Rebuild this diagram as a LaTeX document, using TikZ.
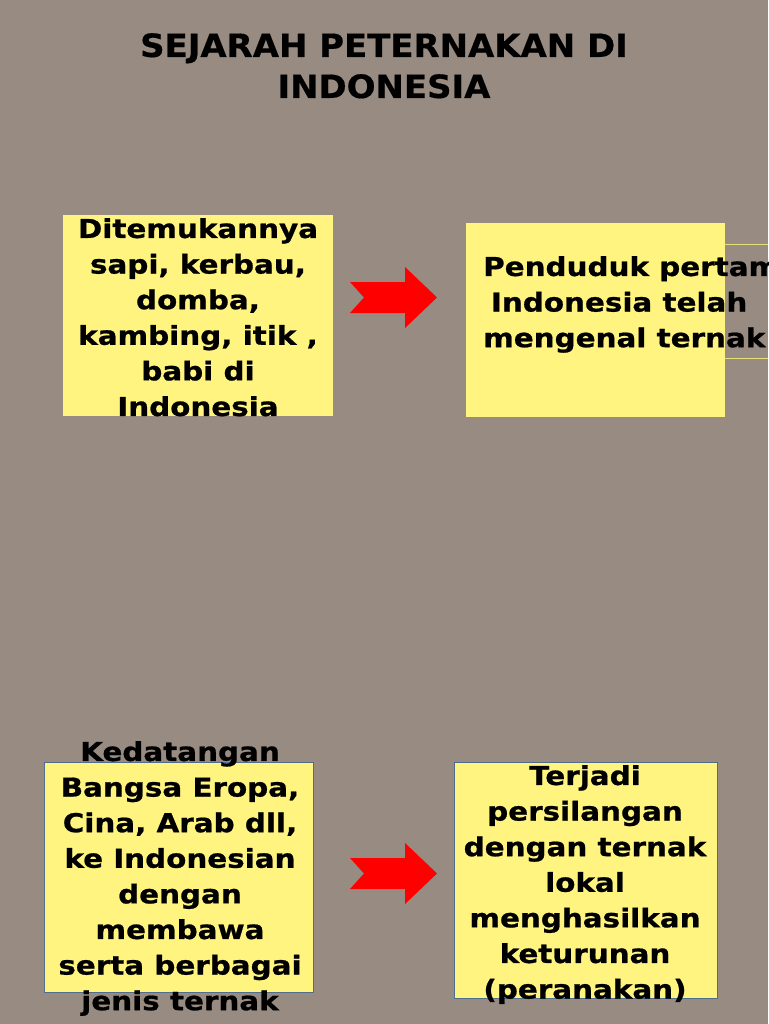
\documentclass[tikz,border=0pt]{standalone}
\usepackage{fontspec}
\setmainfont{DejaVu Sans}
\newfontfamily\bodyfont[FakeStretch=1.13,FakeBold=0.8]{DejaVu Sans}
\newfontfamily\titlefont[FakeStretch=1.06,FakeBold=0.6]{DejaVu Sans}
\definecolor{bg}{RGB}{152,139,129}
\definecolor{boxyellow}{RGB}{255,244,128}
\definecolor{boxline}{RGB}{80,110,140}
\definecolor{frameline}{RGB}{230,222,120}
\definecolor{arrowred}{RGB}{255,0,0}
\begin{document}
\begin{tikzpicture}[x=1pt,y=-1pt,
  panel/.style={fill=boxyellow,draw=none},
  panelb/.style={fill=boxyellow,draw=boxline,line width=0.8pt},
  body/.style={font=\bodyfont\bfseries\fontsize{26}{35.6}\selectfont,inner sep=0pt,align=center,anchor=north},
  titletext/.style={font=\titlefont\bfseries\fontsize{32}{41}\selectfont,inner sep=0pt,align=center,anchor=north},
  blockarrow/.style={fill=arrowred,draw=none}]
\useasboundingbox (0,0) rectangle (768,1024);
\fill[bg] (0,0) rectangle (768,1024);
% title
\node[titletext] (title) at (384,33) {SEJARAH PETERNAKAN DI\\INDONESIA};
% boxes
\fill[panel] (63,215) rectangle (333,416);
\fill[panel] (466,223) rectangle (725,417);
\draw[frameline,line width=0.8pt] (725,244) -- (768,244);
\draw[frameline,line width=0.8pt] (725,358) -- (768,358);
\filldraw[panelb] (44,762) rectangle (313,992);
\filldraw[panelb] (454,762) rectangle (717,998);
% texts
\node[body] (t1) at (198,218) {Ditemukannya\\sapi, kerbau,\\domba,\\kambing, itik ,\\babi di\\Indonesia};
\node[body,align=left,anchor=north west] (t2) at (483,256) {Penduduk pertama\\\hspace{0.3em}Indonesia telah\\mengenal ternak};
\node[body] (t3) at (180,741) {Kedatangan\\Bangsa Eropa,\\Cina, Arab dll,\\ke Indonesian\\dengan\\membawa\\serta berbagai\\jenis ternak};
\node[body] (t4) at (585,765) {Terjadi\\persilangan\\dengan ternak\\lokal\\menghasilkan\\keturunan\\(peranakan)};
% arrows
\foreach \dy/\nm in {0/a1,576/a2}{
  \fill[blockarrow] (350,282+\dy) -- (405,282+\dy) -- (405,267+\dy) -- (437,297.5+\dy) -- (405,328+\dy) -- (405,313+\dy) -- (350,313+\dy) -- (364,297.5+\dy) -- cycle;
}
\end{tikzpicture}
\end{document}
